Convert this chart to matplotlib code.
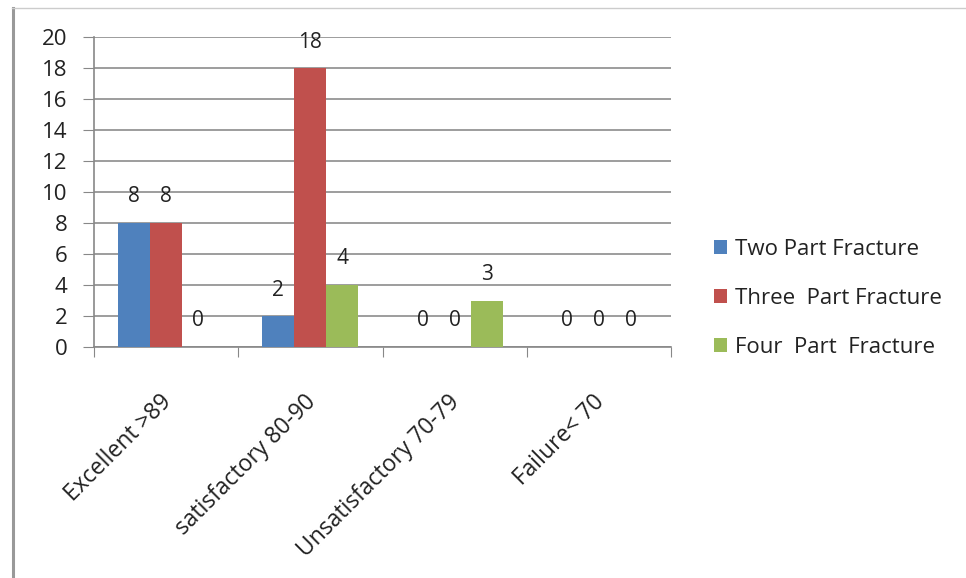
import matplotlib.pyplot as plt
import matplotlib.transforms as mtransforms
import numpy as np
from matplotlib.lines import Line2D
from matplotlib.patches import Patch

categories = ["Excellent >89", "satisfactory 80-90", "Unsatisfactory 70-79", "Failure< 70"]
series_names = ["Two Part Fracture", "Three  Part Fracture", "Four  Part  Fracture"]
two_part = [8, 2, 0, 0]
three_part = [8, 18, 0, 0]
four_part = [0, 4, 3, 0]
colors = ["#4F81BD", "#C0504D", "#9BBB59"]

plt.rcParams["font.family"] = ["Open Sans", "DejaVu Sans"]

fig = plt.figure(figsize=(9.66, 5.78), dpi=100)
ax = fig.add_axes([94 / 966, 1 - 347 / 578, (671 - 94) / 966, (347 - 37) / 578])

x = np.arange(len(categories))
width = 1 / 4.5
for i, (vals, col) in enumerate(zip([two_part, three_part, four_part], colors)):
    pos = x + (i - 1) * width
    ax.bar(pos, vals, width=width, color=col, zorder=3)
    for px, v in zip(pos, vals):
        ax.text(px, v + 1.0, str(v), ha="center", va="bottom", fontsize=15, color="#222222")

ax.set_xlim(-0.5, 3.5)
ax.set_ylim(0, 20)
ax.set_yticks(range(0, 21, 2))
ax.tick_params(axis="y", labelsize=16, length=8, color="#888888", labelcolor="#222222", pad=11)
ax.yaxis.grid(True, color="#8c8c8c", linewidth=1.2, zorder=0)

# category boundaries as tick marks, labels in the middle
ax.set_xticks(np.arange(-0.5, 4, 1))
ax.set_xticklabels([])
ax.tick_params(axis="x", length=7, color="#888888", direction="out")
ax.set_xticks(x, minor=True)
ax.set_xticklabels(categories, minor=True, rotation=45, ha="right", va="center",
                   rotation_mode="anchor", fontsize=16.5, color="#222222")
ax.tick_params(axis="x", which="minor", length=0, pad=37)
shift = mtransforms.ScaledTranslation(2 / 100, 0, fig.dpi_scale_trans)
for lbl in ax.get_xticklabels(minor=True):
    lbl.set_transform(lbl.get_transform() + shift)

for s in ["top", "right"]:
    ax.spines[s].set_visible(False)
for s in ["left", "bottom"]:
    ax.spines[s].set_color("#888888")
    ax.spines[s].set_linewidth(1.2)

handles = [Patch(facecolor=c, edgecolor="none") for c in colors]
fig.legend(handles, series_names, loc="upper left", bbox_to_anchor=(694 / 966, 1 - 219 / 578),
           frameon=False, fontsize=16, handlelength=0.6, handleheight=0.6,
           handletextpad=0.35, labelspacing=1.25, labelcolor="#222222")

# outer frame lines
fig.add_artist(Line2D([13 / 966, 13 / 966], [0, 1 - 8 / 578], color="#999999", lw=2.2,
                     transform=fig.transFigure))
fig.add_artist(Line2D([12 / 966, 1], [1 - 8 / 578, 1 - 8 / 578], color="#cccccc", lw=1,
                      transform=fig.transFigure))

fig.savefig("out.png", dpi=100)
